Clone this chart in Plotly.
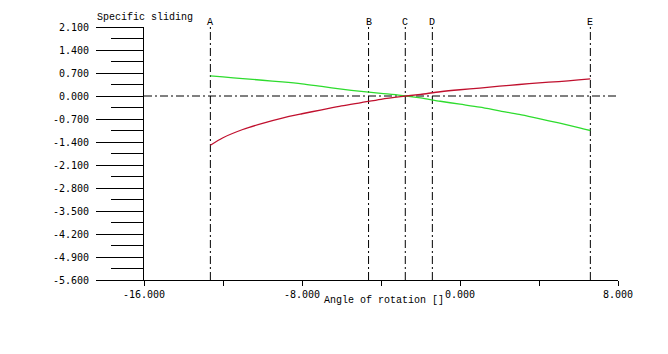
import plotly.graph_objects as go

# ---- data ----
angle = [-12.64, -12, -11, -10, -9, -8, -7, -6, -5, -4, -3, -2, -1, 0, 1, 2, 3, 4, 5, 6, 6.6]
slide_red = [-1.50, -1.27, -1.02, -0.83, -0.67, -0.54, -0.42, -0.30, -0.20, -0.10, -0.02,
             0.05, 0.13, 0.19, 0.24, 0.30, 0.35, 0.40, 0.44, 0.49, 0.52]
slide_green = [0.61, 0.58, 0.53, 0.48, 0.43, 0.37, 0.29, 0.21, 0.14, 0.08, 0.02,
               -0.06, -0.16, -0.25, -0.34, -0.45, -0.56, -0.69, -0.82, -0.96, -1.05]

marker_names = ["A", "B", "C", "D", "E"]
marker_x = [-12.64, -4.63, -2.77, -1.40, 6.60]

y_ticks = [2.1, 1.4, 0.7, 0.0, -0.7, -1.4, -2.1, -2.8, -3.5, -4.2, -4.9, -5.6]
y_ticklabels = ["2.100", "1.400", "0.700", "0.000", "-0.700", "-1.400", "-2.100",
                "-2.800", "-3.500", "-4.200", "-4.900", "-5.600"]
x_ticks = [-16, -8, 0, 8]
x_ticklabels = ["-16.000", "-8.000", "0.000", "8.000"]
x_range = [-16, 8]
y_range = [-5.6, 2.1]

DASH = "8px,3px,2px,3px"
NUMFONT = dict(family="DejaVu Sans Mono", size=10, color="black")
TXTFONT = dict(family="Liberation Mono", size=10, color="black")

fig = go.Figure()

# vertical marker lines
vx, vy = [], []
for xv in marker_x:
    vx += [xv, xv, None]
    vy += [y_range[0], y_range[1], None]
fig.add_trace(go.Scatter(x=vx, y=vy, mode="lines",
                         line=dict(color="black", width=1, dash=DASH),
                         hoverinfo="skip", showlegend=False))
# zero line
fig.add_trace(go.Scatter(x=x_range, y=[0, 0], mode="lines",
                         line=dict(color="black", width=1, dash=DASH),
                         hoverinfo="skip", showlegend=False))

fig.add_trace(go.Scatter(x=angle, y=slide_green, mode="lines",
                         line=dict(color="#2EDC2E", width=1.3, shape="spline", smoothing=0.8),
                         showlegend=False))
fig.add_trace(go.Scatter(x=angle, y=slide_red, mode="lines",
                         line=dict(color="#C0102E", width=1.3, shape="spline", smoothing=0.8),
                         showlegend=False))

for name, xv in zip(marker_names, marker_x):
    fig.add_annotation(x=xv, xref="x", y=1.016, yref="paper", text=name,
                       showarrow=False, xanchor="center", yanchor="middle",
                       font=TXTFONT)

fig.add_annotation(x=-0.1034, xref="paper", y=1.036, yref="paper",
                   text="Specific sliding", showarrow=False,
                   xanchor="left", yanchor="middle", font=TXTFONT)
fig.add_annotation(x=0.3755, xref="paper", y=-0.083, yref="paper",
                   text="Angle of rotation []", showarrow=False,
                   xanchor="left", yanchor="middle", font=TXTFONT)

fig.update_layout(
    width=668, height=354,
    margin=dict(l=144, r=50, t=27, b=74),
    paper_bgcolor="white", plot_bgcolor="white",
    xaxis=dict(range=x_range, showgrid=False, zeroline=False,
               showline=True, linecolor="black", linewidth=1,
               ticks="outside", ticklen=5, tickcolor="black",
               tickvals=x_ticks, ticktext=x_ticklabels, tickfont=NUMFONT,
               minor=dict(ticks="outside", ticklen=5, tickcolor="black",
                          tick0=-16, dtick=4, showgrid=False)),
    yaxis=dict(range=y_range, showgrid=False, zeroline=False,
               showline=True, linecolor="black", linewidth=1,
               ticks="outside", ticklen=47, tickcolor="black",
               tickvals=y_ticks, ticktext=y_ticklabels, tickfont=NUMFONT,
               ticklabelstandoff=5,
               minor=dict(ticks="outside", ticklen=32, tickcolor="black",
                          tick0=-5.6, dtick=0.35, showgrid=False)),
)

fig.write_html("out.html")
